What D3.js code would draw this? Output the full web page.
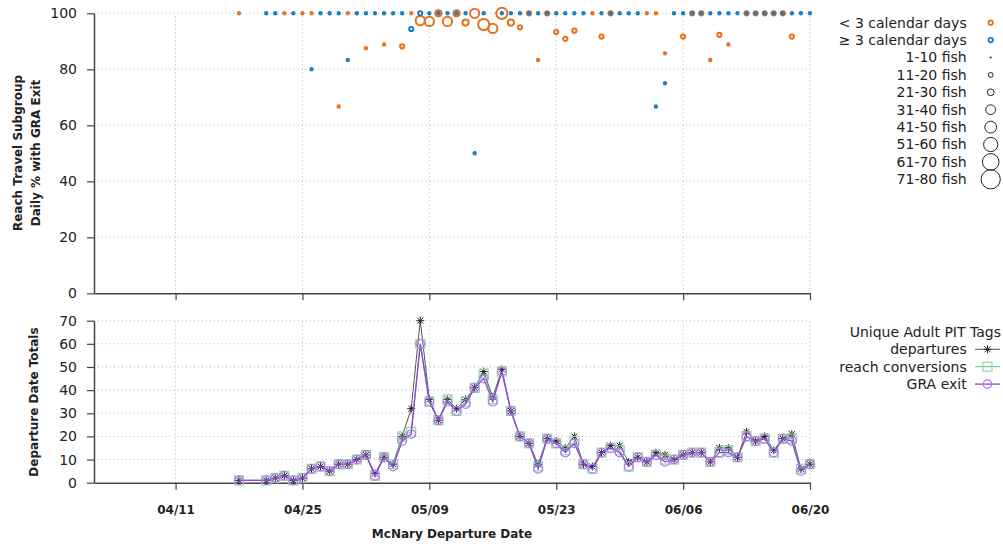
<!DOCTYPE html>
<html>
<head>
<meta charset="utf-8">
<script src="https://cdn.jsdelivr.net/npm/d3@7"></script>
<style>
  body { margin: 0; background: #fff; }
  svg { display: block; font-family: "DejaVu Sans", sans-serif; }
</style>
</head>
<body>
<div id="canvas"></div>
<script>
// x tick labels
const tickLabels = ["04/11", "04/25", "05/09", "05/23", "06/06", "06/20"];

// top panel: < 3 calendar days (orange)
const shortDates = ["04/18","04/23","04/25","04/26","04/29","04/30","05/02","05/04","05/06","05/07",
  "05/08","05/09","05/10","05/11","05/12","05/13","05/14","05/15","05/16","05/17",
  "05/18","05/19","05/20","05/21","05/22","05/23","05/24","05/25","05/27","05/28",
  "05/29","06/02","06/03","06/04","06/06","06/07","06/08","06/09","06/10","06/11",
  "06/13","06/14","06/15","06/16","06/17","06/18"];
const shortPct = [100,100,100,100,66.7,100,87.5,88.9,88.2,100,
  97.4,97.1,100,97.1,100,96.7,100,96.0,94.6,100,
  96.7,95.0,100,83.3,100,93.3,90.9,93.8,100,91.7,
  100,100,100,85.7,91.7,100,100,83.3,92.3,88.9,
  100,100,100,100,100,91.7];
const shortFish = [1,2,1,3,3,2,8,9,17,4,
  38,33,26,33,26,30,32,45,37,48,
  25,18,15,6,16,15,11,16,5,12,
  14,4,5,7,12,12,12,6,13,9,
  18,15,17,12,16,12];

// top panel: >= 3 calendar days (blue)
const longDates = ["04/21","04/22","04/24","04/26","04/27","04/28","04/29","04/30","05/01","05/02",
  "05/03","05/04","05/05","05/06","05/07","05/08","05/09","05/10","05/11","05/12",
  "05/13","05/14","05/15","05/17","05/18","05/19","05/20","05/21","05/22","05/23",
  "05/24","05/25","05/26","05/28","05/29","05/30","05/31","06/01","06/03","06/04",
  "06/05","06/06","06/07","06/08","06/09","06/10","06/11","06/12","06/13","06/14",
  "06/15","06/16","06/17","06/18","06/19","06/20"];
const longPct = [100,100,100,80,100,100,100,83.3,100,100,
  100,100,100,100,94.4,100,100,100,100,100,
  100,50,100,100,100,100,100,100,100,100,
  100,100,100,100,100,100,100,100,66.7,75,
  100,100,100,100,100,100,100,100,100,100,
  100,100,100,100,100,100];
const longFish = [1,2,1,5,5,5,4,6,8,4,
  3,2,7,3,18,14,2,3,1,6,
  4,4,2,2,1,1,2,1,3,2,
  3,2,8,1,1,10,7,10,3,4,
  10,1,1,1,3,1,5,10,2,3,
  2,3,2,6,5,8];

const sizeLabels = ["1-10 fish","11-20 fish","21-30 fish","31-40 fish","41-50 fish",
  "51-60 fish","61-70 fish","71-80 fish"];

// bottom panel
const dates = ["04/18","04/21","04/22","04/23","04/24","04/25","04/26","04/27","04/28","04/29",
  "04/30","05/01","05/02","05/03","05/04","05/05","05/06","05/07","05/08","05/09",
  "05/10","05/11","05/12","05/13","05/14","05/15","05/16","05/17","05/18","05/19",
  "05/20","05/21","05/22","05/23","05/24","05/25","05/26","05/27","05/28","05/29",
  "05/30","05/31","06/01","06/02","06/03","06/04","06/05","06/06","06/07","06/08",
  "06/09","06/10","06/11","06/12","06/13","06/14","06/15","06/16","06/17","06/18",
  "06/19","06/20"];
const departures = [1,1,2,3,1,2,6,7,5,8,
  8,10,12,4,11,8,20,32,70,36,
  27,36,32,36,41,48,37,49,31,20,
  17,8,19,18,15,20,8,7,13,16,
  16,9,11,9,13,12,10,12,13,13,
  9,15,15,11,22,18,20,14,19,21,
  6,8];
const reachConversions = [1,1,2,3,1,2,6,7,5,8,
  8,10,12,3,11,8,20,22,60,35,
  27,36,31,35,41,47,36,48,31,20,
  17,7,19,17,14,18,8,6,13,15,
  14,7,11,9,12,10,10,12,13,13,
  9,13,14,11,20,18,19,13,19,19,
  6,8];
const graExit = [1,1,2,3,1,2,6,7,5,8,
  8,10,12,3,11,7,18,21,60,35,
  27,35,31,34,41,45,35,48,31,20,
  17,6,19,17,13,17,8,6,13,15,
  13,7,11,9,12,9,10,12,13,13,
  9,13,13,11,20,18,19,13,19,18,
  5,8];

const W = 1003, H = 548;
const left = 94, right = 810;
const parse = d3.utcParse("%Y/%m/%d");
const day = s => parse("2023/" + s);

const svg = d3.select("#canvas").append("svg").attr("width", W).attr("height", H);
svg.append("rect").attr("width", W).attr("height", H).attr("fill", "#fff");

const x = d3.scaleUtc().domain([day("04/02"), day("06/20")]).range([left, right]);
const yTop = d3.scaleLinear().domain([0, 100]).range([293.3, 13.3]);
const yBot = d3.scaleLinear().domain([0, 70]).range([482.7, 320.7]);

const orange = "#e8711d", blue = "#1a7dc0";
const radii = [1.2, 2.1, 3.1, 4.6, 5.6, 6.8, 8.0, 9.3];
const rad = d3.scaleThreshold().domain([11, 21, 31, 41, 51, 61, 71]).range(radii);
const tickDates = tickLabels.map(day);

function panel(y, ticks, showLabels) {
  const g = svg.append("g");
  // grid
  g.selectAll(".hg").data(ticks.filter(t => t > 0)).enter().append("line")
    .attr("x1", left).attr("x2", right)
    .attr("y1", d => y(d)).attr("y2", d => y(d))
    .attr("stroke", "#b8b8b8").attr("stroke-dasharray", "1,3");
  g.selectAll(".vg").data(tickDates).enter().append("line")
    .attr("x1", d => x(d)).attr("x2", d => x(d))
    .attr("y1", y.range()[0]).attr("y2", y.range()[1])
    .attr("stroke", "#b8b8b8").attr("stroke-dasharray", "1,3");

  const ya = g.append("g").attr("transform", `translate(${left},0)`)
    .call(d3.axisLeft(y).tickValues(ticks).tickSize(7).tickPadding(10).tickSizeOuter(0));
  ya.select(".domain").attr("stroke", "#444").attr("stroke-width", 1.5);
  ya.selectAll(".tick line").attr("stroke", "#444").attr("stroke-width", 1.2);
  ya.selectAll("text").attr("font-size", 14).attr("fill", "#222")
    .attr("font-family", "DejaVu Sans");

  const xa = g.append("g").attr("transform", `translate(0,${y.range()[0]})`)
    .call(d3.axisBottom(x).tickValues(tickDates).tickSize(7).tickSizeOuter(0)
      .tickFormat((d, i) => showLabels ? tickLabels[i] : ""));
  xa.select(".domain").attr("stroke", "#444").attr("stroke-width", 1.5);
  xa.selectAll(".tick line").attr("stroke", "#444").attr("stroke-width", 1.2);
  xa.selectAll("text").attr("font-size", 12).attr("font-weight", "bold")
    .attr("fill", "#222").attr("font-family", "DejaVu Sans").attr("dy", "1.75em");
  return g;
}

// ---- top panel
panel(yTop, [0, 20, 40, 60, 80, 100], false);

const shortPts = shortDates.map((d, i) => ({ d: day(d), v: shortPct[i], n: shortFish[i] }));
const longPts = longDates.map((d, i) => ({ d: day(d), v: longPct[i], n: longFish[i] }));

svg.append("g").selectAll("circle").data(shortPts).enter().append("circle")
  .attr("cx", d => x(d.d)).attr("cy", d => yTop(d.v)).attr("r", d => rad(d.n))
  .attr("fill", "none").attr("stroke", orange).attr("stroke-width", 2);
svg.append("g").selectAll("circle").data(longPts).enter().append("circle")
  .attr("cx", d => x(d.d)).attr("cy", d => yTop(d.v)).attr("r", d => rad(d.n))
  .attr("fill", "none").attr("stroke", blue).attr("stroke-width", 2);

svg.append("text").attr("transform", "translate(22,153) rotate(-90)")
  .attr("text-anchor", "middle").attr("font-size", 12).attr("font-weight", "bold")
  .attr("fill", "#222").text("Reach Travel Subgroup");
svg.append("text").attr("transform", "translate(40,153) rotate(-90)")
  .attr("text-anchor", "middle").attr("font-size", 12).attr("font-weight", "bold")
  .attr("fill", "#222").text("Daily % with GRA Exit");

// top legend
const lg = svg.append("g");
const legRows = [{ t: "< 3 calendar days", c: orange, r: 2.2, w: 1.8 },
  { t: "\u2265 3 calendar days", c: blue, r: 2.2, w: 1.8 }]
  .concat(sizeLabels.map((t, i) => ({ t, c: "#222", r: i === 0 ? 0.7 : radii[i] + 0.3, w: 1 })));
legRows.forEach((row, i) => {
  const cy = 22.7 + i * 17.4;
  lg.append("text").attr("x", 966.7).attr("y", cy).attr("dy", "0.35em")
    .attr("text-anchor", "end").attr("font-size", 14).attr("fill", "#222").text(row.t);
  lg.append("circle").attr("cx", 990.7).attr("cy", cy).attr("r", row.r)
    .attr("fill", "none").attr("stroke", row.c).attr("stroke-width", row.w);
});

// ---- bottom panel
panel(yBot, [0, 10, 20, 30, 40, 50, 60, 70], true);

const series = [
  { name: "departures", vals: departures, line: "#555", mark: "#222", w: 1, shape: "star" },
  { name: "reach conversions", vals: reachConversions, line: "#5cbf7d", mark: "#8cd9a5", w: 1, shape: "square" },
  { name: "GRA exit", vals: graExit, line: "#9142dc", mark: "#b374f0", w: 1.3, shape: "circle" }
];
const starPath = "M-4,0L4,0M0,-4L0,4M-3,-3L3,3M-3,3L3,-3";

function marker(sel, s) {
  if (s.shape === "star") {
    sel.append("path").attr("d", starPath).attr("stroke", s.mark).attr("stroke-width", 1).attr("fill", "none");
  } else if (s.shape === "square") {
    sel.append("rect").attr("x", -4.5).attr("y", -4.5).attr("width", 9).attr("height", 9)
      .attr("fill", "none").attr("stroke", s.mark).attr("stroke-width", 1.2);
  } else {
    sel.append("circle").attr("r", 4.3).attr("fill", "none").attr("stroke", s.mark).attr("stroke-width", 1.2);
  }
}

const line = d3.line().x(d => x(d.d)).y(d => yBot(d.v));
series.forEach(s => {
  const pts = dates.map((d, i) => ({ d: day(d), v: s.vals[i] }));
  svg.append("path").datum(pts).attr("d", line).attr("fill", "none")
    .attr("stroke", s.line).attr("stroke-width", s.w);
  svg.append("g").selectAll("g").data(pts).enter().append("g")
    .attr("transform", d => `translate(${x(d.d)},${yBot(d.v)})`)
    .each(function () { marker(d3.select(this), s); });
});

svg.append("text").attr("transform", "translate(38,402) rotate(-90)")
  .attr("text-anchor", "middle").attr("font-size", 12).attr("font-weight", "bold")
  .attr("fill", "#222").text("Departure Date Totals");
svg.append("text").attr("x", 452).attr("y", 534).attr("dy", "0.35em")
  .attr("text-anchor", "middle").attr("font-size", 12).attr("font-weight", "bold")
  .attr("fill", "#222").text("McNary Departure Date");

// bottom legend
const bl = svg.append("g");
bl.append("text").attr("x", 1001).attr("y", 331.7).attr("dy", "0.35em")
  .attr("text-anchor", "end").attr("font-size", 14).attr("fill", "#222").text("Unique Adult PIT Tags");
series.forEach((s, i) => {
  const cy = 349.3 + i * 17.4;
  bl.append("text").attr("x", 966.7).attr("y", cy).attr("dy", "0.35em")
    .attr("text-anchor", "end").attr("font-size", 14).attr("fill", "#222").text(s.name);
  bl.append("line").attr("x1", 975).attr("x2", 1000).attr("y1", cy).attr("y2", cy)
    .attr("stroke", s.line).attr("stroke-width", s.w);
  marker(bl.append("g").attr("transform", `translate(987.5,${cy})`), s);
});
</script>
</body>
</html>
